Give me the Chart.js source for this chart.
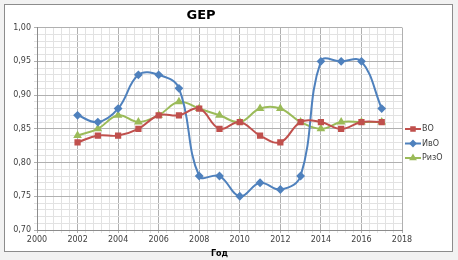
<!DOCTYPE html>
<html>
<head>
<meta charset="utf-8">
<script src="https://cdn.jsdelivr.net/npm/chart.js@4"></script>
<style>
    html, body { margin: 0; padding: 0; background: #ffffff; }
    #wrap { position: relative; width: 458px; height: 260px; }
</style>
</head>
<body>
<div id="wrap"><canvas id="chart" width="458" height="260"></canvas></div>
<script>
// data
const years = [2002, 2003, 2004, 2005, 2006, 2007, 2008, 2009, 2010, 2011, 2012, 2013, 2014, 2015, 2016, 2017];
const voValues = [0.83, 0.84, 0.84, 0.85, 0.87, 0.87, 0.88, 0.85, 0.86, 0.84, 0.83, 0.86, 0.86, 0.85, 0.86, 0.86];
const ivoValues = [0.87, 0.86, 0.88, 0.93, 0.93, 0.91, 0.78, 0.78, 0.75, 0.77, 0.76, 0.78, 0.95, 0.95, 0.95, 0.88];
const rizoValues = [0.84, 0.85, 0.87, 0.86, 0.87, 0.89, 0.88, 0.87, 0.86, 0.88, 0.88, 0.86, 0.85, 0.86, 0.86, 0.86];
const seriesNames = ['ВО', 'ИвО', 'РизО'];

const colors = ['#C0504D', '#4F81BD', '#9BBB59'];
const markers = ['rect', 'rectRot', 'triangle'];

function toPoints(vals) {
    return years.map((y, i) => ({ x: y, y: vals[i] }));
}

// frame + legend drawn by hand, Excel style
const excelBits = {
    id: 'excelBits',
    beforeDraw(chart) {
        const ctx = chart.ctx;
        ctx.save();
        ctx.fillStyle = '#f2f2f2';
        ctx.fillRect(0, 0, 458, 260);
        ctx.fillStyle = '#ffffff';
        ctx.fillRect(4, 4, 449, 248);
        ctx.strokeStyle = '#8c8c8c';
        ctx.lineWidth = 1;
        ctx.strokeRect(4.5, 4.5, 448, 247);
        ctx.restore();
    },
    afterDraw(chart) {
        const ctx = chart.ctx;
        ctx.save();
        chart.data.datasets.forEach((ds, i) => {
            const y = 129 + i * 14.5;
            ctx.strokeStyle = ds.borderColor;
            ctx.lineWidth = 2;
            ctx.beginPath();
            ctx.moveTo(405, y);
            ctx.lineTo(421, y);
            ctx.stroke();
            Chart.helpers.drawPoint(ctx, {
                pointStyle: ds.pointStyle,
                radius: 2.5,
                rotation: 0,
                borderWidth: 1,
            }, 413, y);
            ctx.fillStyle = ds.borderColor;
            ctx.fill();
            ctx.fillStyle = '#404040';
            ctx.font = '8px "DejaVu Sans", sans-serif';
            ctx.textBaseline = 'middle';
            ctx.textAlign = 'left';
            ctx.fillText(ds.label, 422, y);
        });
        ctx.restore();
    },
};

new Chart(document.getElementById('chart'), {
    type: 'line',
    data: {
        datasets: [voValues, ivoValues, rizoValues].map((vals, i) => ({
            label: seriesNames[i],
            data: toPoints(vals),
            borderColor: colors[i],
            backgroundColor: colors[i],
            pointBackgroundColor: colors[i],
            pointBorderColor: colors[i],
            pointStyle: markers[i],
            pointRadius: 3,
            borderWidth: 2,
            tension: 0.4,
        })),
    },
    options: {
        responsive: false,
        animation: false,
        clip: false,
        layout: {
            padding: { left: 0, right: 56, top: 0, bottom: 0 },
        },
        plugins: {
            legend: { display: false },
            tooltip: { enabled: false },
            title: {
                display: true,
                text: 'GEP',
                color: '#000000',
                font: { family: "'DejaVu Sans', sans-serif", size: 13, weight: 'bold' },
                padding: { top: 8, bottom: 4 },
            },
        },
        scales: {
            x: {
                type: 'linear',
                min: 2000,
                max: 2018,
                afterFit: (s) => { s.height = 30; },
                border: { color: '#8c8c8c' },
                grid: {
                    color: (c) => {
                        const v = c.tick.value;
                        const isYear = Math.abs(v - Math.round(v)) < 1e-6 && Math.round(v) % 2 === 0;
                        return isYear ? '#b0b0b0' : '#e2e2e2';
                    },
                    tickLength: 3,
                },
                ticks: {
                    stepSize: 0.4,
                    autoSkip: false,
                    maxRotation: 0,
                    color: '#404040',
                    padding: 2,
                    font: { family: "'DejaVu Sans', sans-serif", size: 8 },
                    callback: (v) => {
                        const isYear = Math.abs(v - Math.round(v)) < 1e-6 && Math.round(v) % 2 === 0;
                        return isYear ? String(Math.round(v)) : '';
                    },
                },
                title: {
                    display: true,
                    text: 'Год',
                    color: '#000000',
                    font: { family: "'DejaVu Sans', sans-serif", size: 8, weight: 'bold' },
                    padding: { top: 0, bottom: 1 },
                },
            },
            y: {
                min: 0.70,
                max: 1.00,
                afterFit: (s) => { s.width = 37; },
                border: { color: '#8c8c8c' },
                grid: {
                    color: (c) => {
                        const k = Math.round(c.tick.value * 100);
                        return k % 5 === 0 ? '#b0b0b0' : '#e2e2e2';
                    },
                    tickLength: 3,
                },
                ticks: {
                    stepSize: 0.01,
                    autoSkip: false,
                    color: '#404040',
                    padding: 3,
                    font: { family: "'DejaVu Sans', sans-serif", size: 8 },
                    callback: (v) => {
                        const k = Math.round(v * 100);
                        return k % 5 === 0 ? (k / 100).toFixed(2).replace('.', ',') : '';
                    },
                },
            },
        },
    },
    plugins: [excelBits],
});
</script>
</body>
</html>
